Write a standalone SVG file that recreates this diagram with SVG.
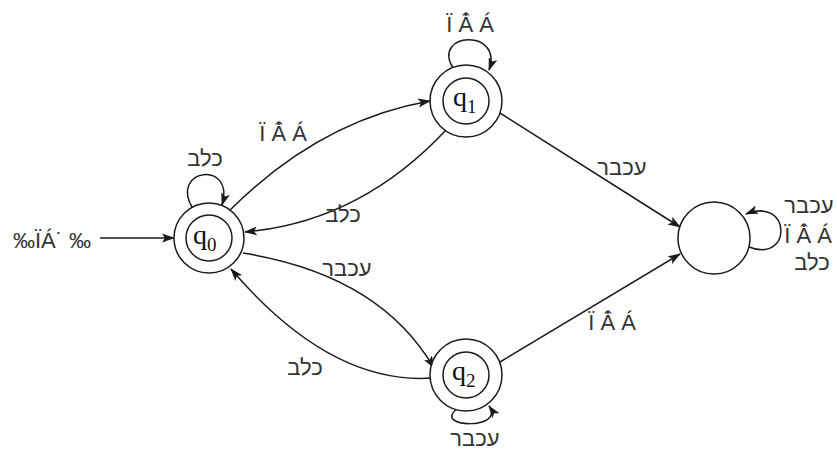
<svg xmlns="http://www.w3.org/2000/svg" width="837" height="454" viewBox="0 0 837 454">
<style>
.st{fill:#fff;stroke:#1a1a1a;stroke-width:1.5}
.e{fill:none;stroke:#1a1a1a;stroke-width:1.5;marker-end:url(#ah)}
.lb{font-family:"Liberation Sans","DejaVu Sans",sans-serif;font-size:22px;fill:#333;text-anchor:middle}
.q{font-family:"Liberation Serif","DejaVu Serif",serif;font-size:28px;fill:#111}
.sub{font-size:19px}
</style>
<defs>
<marker id="ah" markerWidth="13" markerHeight="10" refX="12" refY="5" orient="auto" markerUnits="userSpaceOnUse">
<path d="M0,0.5 L13,5 L0,9.5 L3,5 Z" fill="#1a1a1a"/>
</marker>
</defs>
<rect width="837" height="454" fill="#fff"/>
<g id="connectors">
<path class="e" d="M 100 238 L 174 238"/>
<path class="e" d="M 193 209 C 168 168, 236 160, 222 205"/>
<path class="e" d="M 229 211 Q 320 120 430 101"/>
<path class="e" d="M 446 130 Q 360 222 245 232"/>
<path class="e" d="M 243 253 Q 380 275 434 368"/>
<path class="e" d="M 432 378 Q 330 385 231 269"/>
<path class="e" d="M 453 68 C 431 32, 504 28, 489 70"/>
<path class="e" d="M 457 409 C 432 428, 506 430, 489 406"/>
<path class="e" d="M 749 247 C 792 264, 792 196, 746 214"/>
<path class="e" d="M 500 113 L 680 227"/>
<path class="e" d="M 500 362 L 680 254"/>
</g>
<g id="labels">
<text class="lb" x="52" y="248">‰ÏÁ˙ ‰</text>
<text class="lb" x="205" y="166">כלב</text>
<text class="lb" x="470" y="32">Ï Â̇ Á</text>
<text class="lb" x="283" y="141">Ï Â̇ Á</text>
<text class="lb" x="343" y="222">כלב</text>
<text class="lb" x="347" y="276">עכבר</text>
<text class="lb" x="305" y="375">כלב</text>
<text class="lb" x="622" y="175">עכבר</text>
<text class="lb" x="612" y="330">Ï Â̇ Á</text>
<text class="lb" x="475" y="446">עכבר</text>
<text class="lb" x="809" y="213">עכבר</text>
<text class="lb" x="808" y="243">Ï Â̇ Á</text>
<text class="lb" x="812" y="270">כלב</text>
</g>
<g id="q0">
<circle class="st" cx="209" cy="238" r="35"/>
<circle class="st" cx="209" cy="238" r="23"/>
<text class="q" x="193" y="244">q<tspan class="sub" dy="7">0</tspan></text>
</g>
<g id="q1">
<circle class="st" cx="466" cy="101" r="36"/>
<circle class="st" cx="466" cy="101" r="23"/>
<text class="q" x="453" y="106">q<tspan class="sub" dy="7">1</tspan></text>
</g>
<g id="q2">
<circle class="st" cx="466" cy="375" r="36"/>
<circle class="st" cx="466" cy="375" r="23"/>
<text class="q" x="452" y="380">q<tspan class="sub" dy="7">2</tspan></text>
</g>
<g id="sink">
<circle class="st" cx="714" cy="238" r="36"/>
</g>
</svg>
